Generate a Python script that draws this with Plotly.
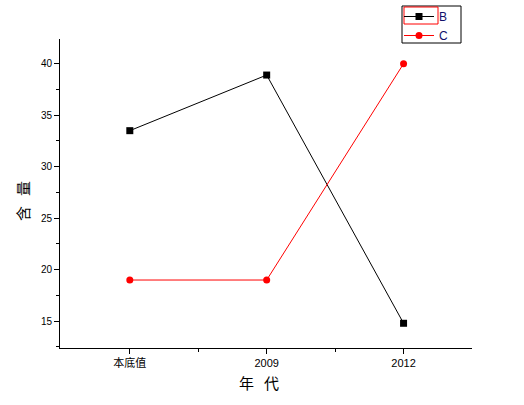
import plotly.graph_objects as go

# categories on the x axis and the two series
categories = ["本底值", "2009", "2012"]
series_b = [33.5, 38.9, 14.8]
series_c = [19.0, 19.0, 40.0]
x_title = "年   代"
y_title = "含   量"

x_pos = list(range(len(categories)))

W, H = 524, 405
L, R, T, B = 60, 52, 39, 57
pw, ph = W - L - R, H - T - B

def px_x(p):
    return (p - L) / pw

def px_y(p):
    return (H - B - p) / ph

cjk = "Noto Sans CJK SC"
latin = "Liberation Sans"

fig = go.Figure()
fig.add_trace(go.Scatter(
    x=x_pos, y=series_b, name="B", mode="lines+markers",
    line=dict(color="black", width=1),
    marker=dict(symbol="square", size=7, color="black"),
))
fig.add_trace(go.Scatter(
    x=x_pos, y=series_c, name="C", mode="lines+markers",
    line=dict(color="#ff0000", width=1),
    marker=dict(symbol="circle", size=7, color="#ff0000"),
))

fig.update_layout(
    width=W, height=H,
    margin=dict(l=L, r=R, t=T, b=B, autoexpand=False),
    paper_bgcolor="white", plot_bgcolor="white",
    font=dict(family=latin, size=11, color="black"),
    showlegend=True,
    legend=dict(
        xref="container", yref="container",
        x=399 / W, y=1 - 2 / H, xanchor="left", yanchor="top",
        borderwidth=0, bgcolor="rgba(0,0,0,0)",
        font=dict(family=latin, size=12, color="#10106a"),
        itemwidth=30, tracegroupgap=0,
    ),
    xaxis=dict(
        range=[-0.51, 2.5], showgrid=False, zeroline=False,
        showline=True, linecolor="black", linewidth=1,
        ticks="outside", ticklen=5, tickcolor="black",
        tickvals=x_pos, ticktext=categories,
        tickfont=dict(family=f"{latin}, {cjk}", size=11),
        minor=dict(tickvals=[0.5, 1.5], ticklen=3, tickcolor="black", ticks="outside"),
    ),
    yaxis=dict(
        range=[12.4, 42.4], showgrid=False, zeroline=False,
        showline=True, linecolor="black", linewidth=1,
        ticks="outside", ticklen=5, tickcolor="black",
        tickvals=[15, 20, 25, 30, 35, 40],
        tickfont=dict(family=latin, size=10),
        minor=dict(dtick=2.5, ticklen=3, tickcolor="black", ticks="outside"),
    ),
    annotations=[
        dict(text=x_title, xref="paper", yref="paper", x=px_x(259), y=px_y(382),
             showarrow=False, xanchor="center", yanchor="middle",
             font=dict(family=cjk, size=15, color="black")),
        dict(text=y_title, xref="paper", yref="paper", x=px_x(22), y=px_y(201),
             showarrow=False, xanchor="center", yanchor="middle", textangle=-90,
             font=dict(family=cjk, size=15, color="black")),
    ],
    shapes=[
        # legend frame
        dict(type="rect", xref="paper", yref="paper", layer="above",
             x0=px_x(402), x1=px_x(461), y0=px_y(43), y1=px_y(6),
             line=dict(color="black", width=1)),
        # highlight box around the first legend entry
        dict(type="rect", xref="paper", yref="paper", layer="above",
             x0=px_x(404), x1=px_x(438), y0=px_y(24), y1=px_y(7),
             line=dict(color="#ff0000", width=1)),
    ],
)

fig.write_html("out.html")
